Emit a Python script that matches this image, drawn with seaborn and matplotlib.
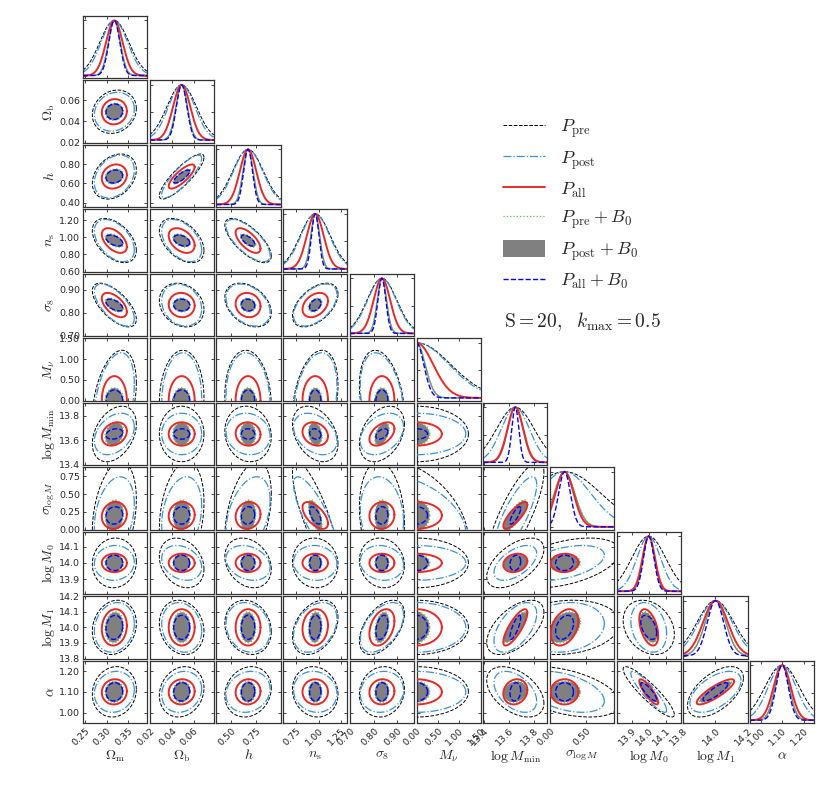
import numpy as np
import matplotlib
matplotlib.use('Agg')
import matplotlib.pyplot as plt
import seaborn as sns
from matplotlib.lines import Line2D
from matplotlib.patches import Patch

# ---------------- data ----------------
PARAM_LABELS = [r'$\Omega_{\rm m}$', r'$\Omega_{\rm b}$', r'$h$', r'$n_{\rm s}$', r'$\sigma_8$',
                r'$M_\nu$', r'$\log M_{\rm min}$', r'$\sigma_{\log M}$', r'$\log M_0$',
                r'$\log M_1$', r'$\alpha$']
FIDUCIAL = [0.3175, 0.049, 0.6711, 0.9624, 0.834, 0.0, 13.65, 0.2, 14.0, 14.0, 1.1]
LIMITS = [(0.2454, 0.393), (0.0199, 0.0783), (0.351, 1.0), (0.599, 1.325), (0.698, 0.970),
          (0.0, 1.50), (13.395, 13.905), (0.0, 0.88), (13.81, 14.19), (13.80, 14.20), (0.95, 1.25)]
XTICKS = [[0.25, 0.30, 0.35], [0.02, 0.04, 0.06], [0.50, 0.75], [0.75, 1.00, 1.25],
          [0.70, 0.80, 0.90], [0.0, 0.5, 1.0, 1.5], [13.4, 13.6, 13.8], [0.0, 0.5],
          [13.9, 14.0, 14.1], [13.8, 14.0, 14.2], [1.0, 1.1, 1.2]]
YTICKS = [[], [0.02, 0.04, 0.06], [0.4, 0.6, 0.8], [0.6, 0.8, 1.0, 1.2], [0.7, 0.8, 0.9],
          [0.0, 0.5, 1.0, 1.5], [13.4, 13.6, 13.8], [0.0, 0.25, 0.5, 0.75],
          [13.9, 14.0, 14.1], [13.8, 13.9, 14.0, 14.1, 14.2], [1.0, 1.1, 1.2]]
TICK_FMT = ['%.2f', '%.2f', '%.2f', '%.2f', '%.2f', '%.2f', '%.1f', '%.2f', '%.1f', '%.1f', '%.2f']

# 1-sigma marginal errors per case
SIG_PRE = [0.0334, 0.0134, 0.155, 0.170, 0.063, 0.80, 0.150, 0.50, 0.100, 0.115, 0.080]
SIG_POST = [0.0303, 0.0120, 0.147, 0.162, 0.0605, 0.76, 0.112, 0.36, 0.070, 0.105, 0.065]
SIG_ALL = [0.0190, 0.0078, 0.083, 0.095, 0.035, 0.39, 0.063, 0.125, 0.037, 0.077, 0.040]
SIG_PRE_B0 = [0.0142, 0.0053, 0.052, 0.051, 0.020, 0.205, 0.062, 0.145, 0.035, 0.066, 0.034]
SIG_POST_B0 = [0.0136, 0.0052, 0.051, 0.050, 0.0196, 0.20, 0.060, 0.140, 0.034, 0.064, 0.033]
SIG_ALL_B0 = [0.0126, 0.0048, 0.0445, 0.042, 0.0168, 0.17, 0.028, 0.081, 0.031, 0.051, 0.029]

# correlation coefficients (lower triangle, row i lists columns 0..i-1)
CORR_WIDE = [
    [],
    [0.15],
    [0.30, 0.85],
    [-0.45, -0.45, -0.70],
    [-0.65, -0.20, -0.35, 0.50],
    [0.35, 0.05, -0.10, 0.30, -0.30],
    [0.35, 0.00, -0.10, -0.35, 0.35, 0.00],
    [0.30, 0.25, 0.40, -0.80, -0.15, -0.45, 0.80],
    [0.05, -0.25, -0.25, -0.05, -0.10, 0.00, 0.55, 0.45],
    [0.15, -0.15, -0.15, 0.35, 0.50, 0.00, 0.55, 0.15, -0.25],
    [0.10, 0.15, 0.15, -0.10, 0.10, 0.00, -0.45, -0.45, -0.90, 0.55],
]
CORR_TIGHT = [
    [],
    [0.05],
    [0.15, 0.80],
    [-0.50, -0.40, -0.65],
    [-0.55, -0.05, -0.10, 0.35],
    [0.00, 0.00, 0.00, 0.00, 0.00],
    [0.25, 0.00, -0.05, -0.20, 0.45, 0.00],
    [0.10, 0.05, 0.10, -0.60, 0.05, 0.00, 0.80],
    [0.00, 0.00, 0.00, 0.00, 0.00, 0.00, 0.20, 0.05],
    [0.10, 0.00, 0.00, 0.10, 0.35, 0.00, 0.80, 0.35, -0.45],
    [0.05, 0.05, 0.05, 0.00, 0.05, 0.00, 0.15, 0.00, -0.85, 0.85],
]

CASE_LABELS = [r'$P_{\rm pre}$', r'$P_{\rm post}$', r'$P_{\rm all}$',
               r'$P_{\rm pre}+B_0$', r'$P_{\rm post}+B_0$', r'$P_{\rm all}+B_0$']

# ---------------- styling ----------------
sns.set_style('ticks')
plt.rcParams['font.family'] = ['DejaVu Sans']
plt.rcParams['mathtext.fontset'] = 'cm'

STYLE = {
    'pre': dict(color='black', ls='--', lw=0.7),
    'post': dict(color='#3d8fd1', ls='-.', lw=0.9),
    'all': dict(color='#e62a2a', ls='-', lw=1.4),
    'preB': dict(color='#5fbf5a', ls=':', lw=0.9),
    'postB': dict(color='gray', ls='-', lw=1.0),
    'allB': dict(color='blue', ls='--', lw=1.0),
}
CASES = [('pre', SIG_PRE, CORR_WIDE), ('post', SIG_POST, CORR_WIDE),
         ('postB', SIG_POST_B0, CORR_TIGHT), ('preB', SIG_PRE_B0, CORR_TIGHT),
         ('all', SIG_ALL, CORR_TIGHT), ('allB', SIG_ALL_B0, CORR_TIGHT)]
K68 = np.sqrt(2.30)

n = len(PARAM_LABELS)
fig = plt.figure(figsize=(8.3, 8.01), dpi=100)
gs = fig.add_gridspec(n, n, left=0.1, right=0.981, top=0.98, bottom=0.0974,
                      wspace=0.04, hspace=0.035)

t = np.linspace(0, 2 * np.pi, 240)
for i in range(n):
    for j in range(i + 1):
        ax = fig.add_subplot(gs[i, j])
        if i == j:
            xs = np.linspace(LIMITS[j][0], LIMITS[j][1], 300)
            for name, sig, _ in CASES:
                st = STYLE[name]
                ys = np.exp(-0.5 * ((xs - FIDUCIAL[j]) / sig[j]) ** 2)
                sns.lineplot(x=xs, y=ys, ax=ax, color=st['color'], linestyle=st['ls'],
                             lw=st['lw'], sort=False, estimator=None)
            ax.set_ylim(-0.05, 1.08)
            ax.set_yticks([0.0, 0.5, 1.0])
        else:
            for name, sig, corr in CASES:
                st = STYLE[name]
                sx, sy, rho = sig[j], sig[i], corr[i][j]
                cov = np.array([[sx * sx, rho * sx * sy], [rho * sx * sy, sy * sy]])
                L = np.linalg.cholesky(cov)
                pts = L @ np.vstack([np.cos(t), np.sin(t)]) * K68
                ex = pts[0] + FIDUCIAL[j]
                ey = pts[1] + FIDUCIAL[i]
                if name == 'postB':
                    ax.fill(ex, ey, color='gray', lw=0, zorder=2)
                else:
                    sns.lineplot(x=ex, y=ey, ax=ax, color=st['color'], linestyle=st['ls'],
                                 lw=st['lw'], sort=False, estimator=None, zorder=3)
            ax.set_ylim(*LIMITS[i])
            ax.set_yticks(YTICKS[i])
        ax.set_xlim(*LIMITS[j])
        ax.set_xticks(XTICKS[j])
        ax.tick_params(direction='in', top=True, right=True, length=2.5, width=0.6,
                       labelsize=6.8, pad=2)
        for sp in ax.spines.values():
            sp.set_linewidth(0.9)
            sp.set_color('#333333')
        if i == n - 1:
            ax.set_xticklabels([TICK_FMT[j] % v for v in XTICKS[j]], rotation=45,
                               ha='right', rotation_mode='anchor')
            ax.set_xlabel(PARAM_LABELS[j], fontsize=10, labelpad=1)
        else:
            ax.set_xticklabels([])
            ax.set_xlabel('')
        if j == 0 and i > 0:
            ax.set_yticklabels([TICK_FMT[i] % v for v in YTICKS[i]])
            ax.set_ylabel(PARAM_LABELS[i], fontsize=10, labelpad=1.5)
        else:
            ax.set_yticklabels([])
            ax.set_ylabel('')

handles = [Line2D([], [], color=STYLE['pre']['color'], ls='--', lw=0.7),
           Line2D([], [], color=STYLE['post']['color'], ls='-.', lw=0.9),
           Line2D([], [], color=STYLE['all']['color'], ls='-', lw=1.4),
           Line2D([], [], color=STYLE['preB']['color'], ls=':', lw=0.9),
           Patch(facecolor='gray', edgecolor='none'),
           Line2D([], [], color=STYLE['allB']['color'], ls='--', lw=1.0)]
fig.legend(handles, CASE_LABELS, loc='upper left', bbox_to_anchor=(0.606, 0.854),
           frameon=False, fontsize=13, handlelength=2.33, handleheight=1.0,
           handletextpad=0.85, labelspacing=0.48, borderpad=0, borderaxespad=0)
fig.text(0.607, 0.599, r'$\mathrm{S}=20,\ \ k_{\rm max}=0.5$', fontsize=14, va='center')

fig.savefig('out.png', dpi=100)
